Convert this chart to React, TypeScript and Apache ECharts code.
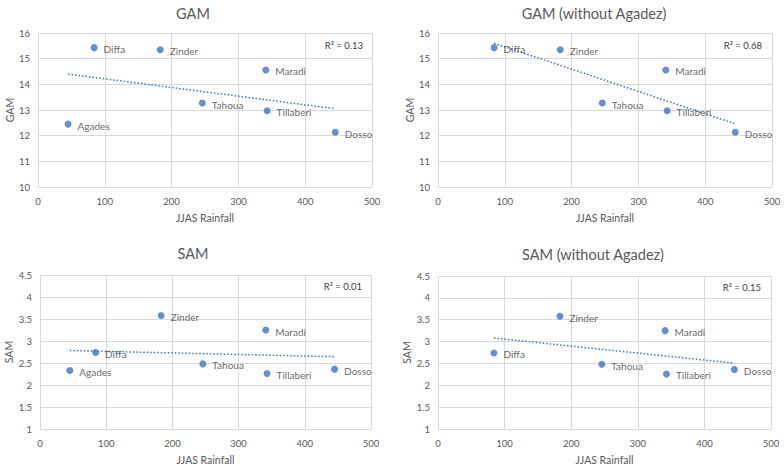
import React, { useEffect, useRef } from "react";
import * as echarts from "echarts";

const regions = ["Agades", "Diffa", "Zinder", "Tahoua", "Maradi", "Tillaberi", "Dosso"];
const rainfall = [45, 84, 183, 246, 341, 343, 445];
const gam = [12.45, 15.43, 15.35, 13.27, 14.56, 12.97, 12.13];
const sam = [2.33, 2.74, 3.58, 2.48, 3.25, 2.26, 2.36];
const titles = ["GAM", "GAM (without Agadez)", "SAM", "SAM (without Agadez)"];
const r2Labels = ["R² = 0.13", "R² = 0.68", "R² = 0.01", "R² = 0.15"];
const xTicks = [0, 100, 200, 300, 400, 500];

const FONT = "Lato";
const BLUE = "#4472C4";
const TEXT = "#595959";
const GRIDC = "#d9d9d9";

function regress(xs: number[], ys: number[]) {
  const n = xs.length;
  const mx = xs.reduce((a, b) => a + b, 0) / n;
  const my = ys.reduce((a, b) => a + b, 0) / n;
  let sxy = 0, sxx = 0;
  for (let i = 0; i < n; i++) {
    sxy += (xs[i] - mx) * (ys[i] - my);
    sxx += (xs[i] - mx) * (xs[i] - mx);
  }
  const slope = sxy / sxx;
  const b = my - slope * mx;
  const x0 = Math.min(...xs), x1 = Math.max(...xs);
  return [[x0, b + slope * x0], [x1, b + slope * x1]];
}

export default function App() {
  const ref = useRef<HTMLDivElement>(null);
  useEffect(() => {
    if (!ref.current) return;
    const chart = echarts.init(ref.current, null, { renderer: "svg" });

    const panels = [
      { vals: gam, excl: false, ymin: 10, ymax: 16, yint: 1, name: "GAM" },
      { vals: gam, excl: true, ymin: 10, ymax: 16, yint: 1, name: "GAM" },
      { vals: sam, excl: false, ymin: 1, ymax: 4.5, yint: 0.5, name: "SAM" },
      { vals: sam, excl: true, ymin: 1, ymax: 4.5, yint: 0.5, name: "SAM" },
    ];
    const grids = [
      { left: 38, right: 412, top: 33, bottom: 279 },
      { left: 438, right: 12, top: 33, bottom: 279 },
      { left: 40, right: 413, top: 275, bottom: 37 },
      { left: 438, right: 13, top: 276, bottom: 36 },
    ];
    const titlePos = [
      { x: 188, y: 1 },
      { x: 589, y: 1 },
      { x: 188, y: 241 },
      { x: 588, y: 242 },
    ];
    const r2Pos = [
      { x: 363, y: 45 },
      { x: 762, y: 45 },
      { x: 362, y: 286 },
      { x: 761, y: 287 },
    ];

    const series: any[] = [];
    panels.forEach((p, i) => {
      const idx = regions.map((_, k) => k).filter((k) => !(p.excl && regions[k] === "Agades"));
      const xs = idx.map((k) => rainfall[k]);
      const ys = idx.map((k) => p.vals[k]);
      series.push({
        type: "scatter",
        xAxisIndex: i,
        yAxisIndex: i,
        symbolSize: 7,
        itemStyle: { color: BLUE },
        data: idx.map((k) => ({ value: [rainfall[k], p.vals[k]], name: regions[k] })),
        label: {
          show: true,
          position: "right",
          distance: 6,
          offset: [0, 1.5],
          formatter: (d: any) => d.name,
          color: "#404040",
          fontSize: 10,
          fontFamily: FONT,
        },
        z: 3,
      });
      series.push({
        type: "line",
        xAxisIndex: i,
        yAxisIndex: i,
        data: regress(xs, ys),
        symbol: "none",
        lineStyle: { color: BLUE, width: 1.5, type: [1.5, 2] },
        z: 2,
      });
    });

    chart.setOption({
      animation: false,
      backgroundColor: "#ffffff",
      title: titles.map((t, i) => ({
        text: t,
        left: titlePos[i].x,
        top: titlePos[i].y,
        textAlign: "center",
        textStyle: { fontSize: 14.5, fontWeight: "normal", color: TEXT, fontFamily: FONT },
      })),
      grid: grids,
      xAxis: panels.map((p, i) => ({
        type: "value",
        gridIndex: i,
        min: xTicks[0],
        max: xTicks[xTicks.length - 1],
        interval: 100,
        name: "JJAS Rainfall",
        nameLocation: "middle",
        nameGap: 25,
        nameTextStyle: { fontSize: 10.5, color: TEXT, fontFamily: FONT },
        axisLine: { show: false },
        axisTick: { show: false },
        axisLabel: { fontSize: 9.5, color: TEXT, fontFamily: FONT, margin: 9 },
        splitLine: { show: true, lineStyle: { color: GRIDC, width: 1 } },
      })),
      yAxis: panels.map((p, i) => ({
        type: "value",
        gridIndex: i,
        min: p.ymin,
        max: p.ymax,
        interval: p.yint,
        name: p.name,
        nameLocation: "middle",
        nameGap: 22,
        nameTextStyle: { fontSize: 10.5, color: TEXT, fontFamily: FONT },
        axisLine: { show: false },
        axisTick: { show: false },
        axisLabel: { fontSize: 9.5, color: TEXT, fontFamily: FONT, margin: 8 },
        splitLine: { show: true, lineStyle: { color: GRIDC, width: 1 } },
      })),
      graphic: r2Labels.map((t, i) => ({
        type: "text",
        x: r2Pos[i].x,
        y: r2Pos[i].y,
        style: {
          text: t,
          fontSize: 9.5,
          fill: "#404040",
          fontFamily: FONT,
          textAlign: "right",
          textVerticalAlign: "middle",
        },
      })),
      series,
    });
    return () => chart.dispose();
  }, []);
  return (
    <div
      ref={ref}
      style={{ position: "fixed", left: 0, top: 0, width: 784, height: 466, background: "#fff" }}
    />
  );
}
